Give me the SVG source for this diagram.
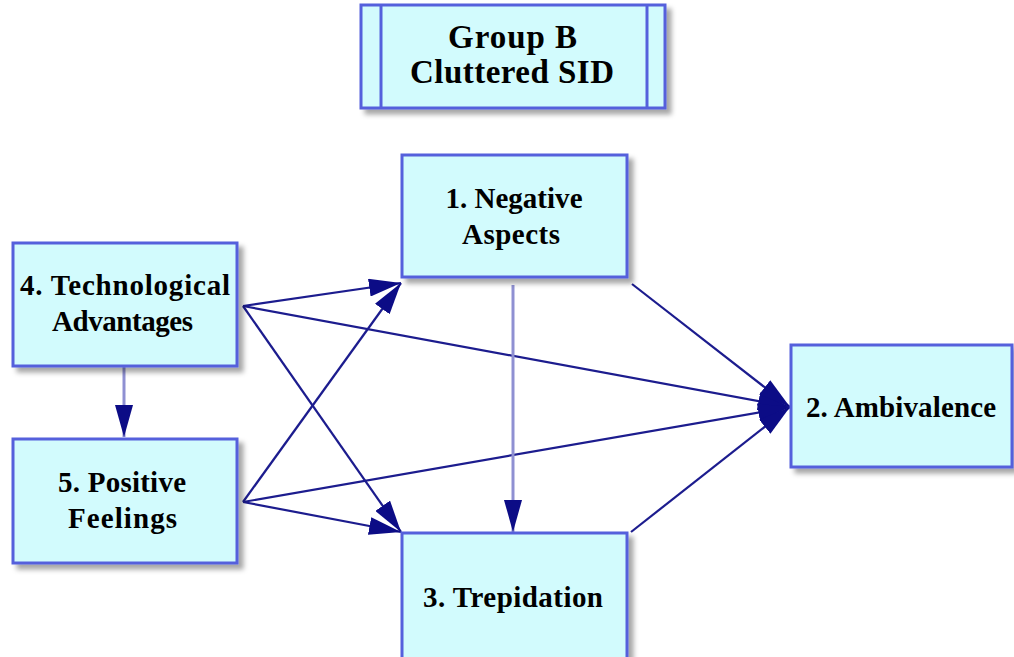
<svg xmlns="http://www.w3.org/2000/svg" width="1014" height="657" viewBox="0 0 1014 657">
  <defs>
    <filter id="shadow" x="-10%" y="-10%" width="130%" height="140%">
      <feDropShadow dx="5" dy="5" stdDeviation="2.5" flood-color="#000" flood-opacity="0.35"/>
    </filter>
    <marker id="arrow" viewBox="0 0 32 18" refX="32" refY="9" markerWidth="32" markerHeight="18" markerUnits="userSpaceOnUse" orient="auto">
      <path d="M0,0 L32,9 L0,18 Z" fill="#0c0c86"/>
    </marker>
    <style>
      .box { fill: #d2fbfd; stroke: #5560dc; stroke-width: 3; filter: url(#shadow); }
      .bar { stroke: #5560dc; stroke-width: 3; fill: none; }
      .lbl { font-family: "Liberation Serif", "Times New Roman", serif; font-weight: bold; font-size: 29px; fill: #000; text-anchor: middle; }
      .title { font-size: 33px; }
      .edge { stroke: #1c1c8e; stroke-width: 2.2; fill: none; marker-end: url(#arrow); }
      .edge.v { stroke: #8f90d2; stroke-width: 3; }
    </style>
  </defs>

  <!-- heading box -->
  <g id="group-b">
    <rect class="box" x="361" y="5" width="304" height="103"/>
    <line class="bar" x1="381" y1="5" x2="381" y2="108"/>
    <line class="bar" x1="647" y1="5" x2="647" y2="108"/>
    <text class="lbl title" x="512.5" y="48" textLength="129" lengthAdjust="spacing">Group B</text>
    <text class="lbl title" x="512" y="83" textLength="204" lengthAdjust="spacing">Cluttered SID</text>
  </g>

  <!-- connectors -->
  <g id="connectors">
    <line class="edge" x1="243" y1="306" x2="401" y2="283"/>
    <line class="edge" x1="243" y1="306" x2="790" y2="407"/>
    <line class="edge" x1="243" y1="306" x2="401" y2="532"/>
    <line class="edge v" x1="124" y1="367" x2="124" y2="437"/>
    <line class="edge" x1="243" y1="502" x2="401" y2="283"/>
    <line class="edge" x1="243" y1="502" x2="790" y2="407"/>
    <line class="edge" x1="243" y1="502" x2="401" y2="532"/>
    <line class="edge v" x1="513" y1="285" x2="513" y2="532"/>
    <line class="edge" x1="632" y1="284" x2="790" y2="407"/>
    <line class="edge" x1="631" y1="532" x2="790" y2="407"/>
  </g>

  <g id="node-1">
    <rect class="box" x="402" y="155" width="225" height="122"/>
    <text class="lbl" x="514" y="208" textLength="137" lengthAdjust="spacing">1. Negative</text>
    <text class="lbl" x="511" y="244" textLength="98" lengthAdjust="spacing">Aspects</text>
  </g>

  <g id="node-2">
    <rect class="box" x="791" y="345" width="221" height="122"/>
    <text class="lbl" x="901" y="417" textLength="190" lengthAdjust="spacing">2. Ambivalence</text>
  </g>

  <g id="node-3">
    <rect class="box" x="402" y="533" width="225" height="128"/>
    <text class="lbl" x="513" y="607" textLength="180" lengthAdjust="spacing">3. Trepidation</text>
  </g>

  <g id="node-4">
    <rect class="box" x="13" y="243" width="224" height="123"/>
    <text class="lbl" x="125" y="295" textLength="210" lengthAdjust="spacing">4. Technological</text>
    <text class="lbl" x="122.5" y="331" textLength="141" lengthAdjust="spacing">Advantages</text>
  </g>

  <g id="node-5">
    <rect class="box" x="13" y="439" width="224" height="124"/>
    <text class="lbl" x="122" y="492" textLength="128" lengthAdjust="spacing">5. Positive</text>
    <text class="lbl" x="122.5" y="528" textLength="109" lengthAdjust="spacing">Feelings</text>
  </g>
</svg>
